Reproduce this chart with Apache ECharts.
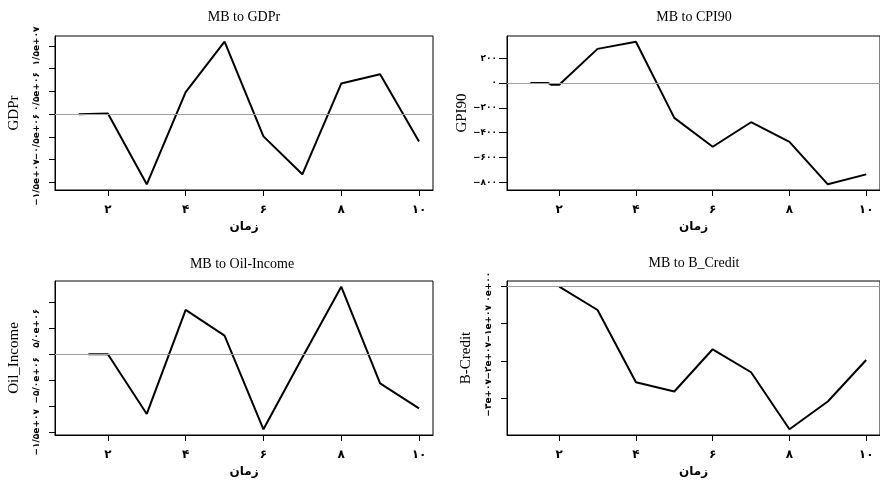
<!DOCTYPE html>
<html>
<head>
<meta charset="utf-8">
<script src="https://cdn.jsdelivr.net/npm/echarts@6/dist/echarts.min.js"></script>
<style>
  html, body { margin: 0; padding: 0; background: #fff; }
  #chart { width: 880px; height: 481px; }
</style>
</head>
<body>
<div id="chart"></div>
<script>
// x axis (shared)
var xTickVals = [2, 4, 6, 8, 10];
var xTickText = ['۲', '۴', '۶', '۸', '۱۰'];

// MB to GDPr
var gdprX = [1.25, 1.75, 2, 3, 4, 5, 6, 7, 8, 9, 10];
var gdprY = [0, 1.0e5, 1.5e5, -1.54e7, 4.87e6, 1.593e7, -4.87e6, -1.32e7, 6.73e6, 8.78e6, -5.97e6];
var gdprTicks = [-1.5e7, -1e7, -5e6, 0, 5e6, 1e7, 1.5e7];
var gdprLabelVals = [-1.5e7, -5e6, 5e6, 1.5e7];
var gdprLabelText = ['−۱/۵e+۰۷', '−۰/۵e+۰۶', '۰/۵e+۰۶', '۱/۵e+۰۷'];

// MB to CPI90
var cpiX = [1.25, 1.72, 1.8, 2, 3, 4, 5, 6, 7, 8, 9, 10];
var cpiY = [0, 0, -14, -14, 276, 334, -281, -514, -316, -474, -817, -737];
var cpiTicks = [-800, -600, -400, -200, 0, 200];
var cpiLabelText = ['−۸۰۰', '−۶۰۰', '−۴۰۰', '−۲۰۰', '۰', '۲۰۰'];

// MB to Oil-Income
var oilX = [1.5, 2, 3, 4, 5, 6, 7, 8, 9, 10];
var oilY = [0, 0, -1.147e7, 8.53e6, 3.59e6, -1.442e7, -6e5, 1.3e7, -5.58e6, -1.038e7];
var oilTicks = [-1.5e7, -1e7, -5e6, 0, 5e6, 1e7];
var oilLabelVals = [-1.5e7, -5e6, 5e6];
var oilLabelText = ['−۱/۵e+۰۷', '−۵/۰e+۰۶', '۵/۰e+۰۶'];

// MB to B_Credit
var credX = [2, 3, 4, 5, 6, 7, 8, 9, 10];
var credY = [0, -6.29e6, -2.58e7, -2.83e7, -1.69e7, -2.31e7, -3.85e7, -3.1e7, -1.98e7];
var credTicks = [-3e7, -2e7, -1e7, 0];
var credLabelText = ['−۳e+۰۷', '−۲e+۰۷', '−۱e+۰۷', '۰e+۰۰'];

var serif = "'Liberation Serif', 'DejaVu Serif', serif";
var arabic = "'DejaVu Sans', sans-serif";

var panels = [
    {title: 'MB to GDPr', yName: 'GDPr', x: gdprX, y: gdprY, ticks: gdprTicks,
     labelVals: gdprLabelVals, labelText: gdprLabelText, rot: 90,
     left: 55, top: 36, center: 244, titleTop: 10},
    {title: 'MB to CPI90', yName: 'GPI90', x: cpiX, y: cpiY, ticks: cpiTicks,
     labelVals: cpiTicks, labelText: cpiLabelText, rot: 0,
     left: 507, top: 36, center: 694, titleTop: 10},
    {title: 'MB to Oil-Income', yName: 'Oil_Income', x: oilX, y: oilY, ticks: oilTicks,
     labelVals: oilLabelVals, labelText: oilLabelText, rot: 90,
     left: 55, top: 281, center: 242, titleTop: 257},
    {title: 'MB to B_Credit', yName: 'B-Credit', x: credX, y: credY, ticks: credTicks,
     labelVals: credTicks, labelText: credLabelText, rot: 90,
     left: 507, top: 281, center: 694, titleTop: 256}
];

var option = {
    animation: false,
    backgroundColor: '#fff',
    title: [], grid: [], xAxis: [], yAxis: [], series: []
};

function yLabel(p, vals) {
    return {
        customValues: vals, rotate: p.rot, margin: p.rot ? 14 : 10,
        hideOverlap: false, showMinLabel: true, showMaxLabel: true,
        fontFamily: arabic, fontSize: 9, fontWeight: 'bold', color: '#000',
        formatter: function (v) {
            var k = p.labelVals.indexOf(v);
            return k < 0 ? '' : p.labelText[k];
        }
    };
}

panels.forEach(function (p, i) {
    var lo = Math.min.apply(null, p.y), hi = Math.max.apply(null, p.y);
    var pad = (hi - lo) * 0.04;
    // rotated labels sit edge to edge, so every other one goes on a twin axis
    var evenVals = p.labelVals.filter(function (v, k) { return p.rot === 0 || k % 2 === 0; });
    var oddVals = p.labelVals.filter(function (v, k) { return p.rot !== 0 && k % 2 === 1; });

    option.title.push({
        text: p.title, left: p.center, top: p.titleTop, textAlign: 'center', padding: 0,
        textStyle: {fontFamily: serif, fontSize: 14, fontWeight: 'normal', color: '#000'}
    });
    option.grid.push({
        left: p.left, top: p.top, width: 378, height: 154,
        show: true, borderColor: '#000', borderWidth: 1, backgroundColor: 'transparent'
    });
    option.xAxis.push({
        type: 'value', gridIndex: i, min: 0.64, max: 10.36,
        name: 'زمان', nameLocation: 'middle', nameGap: 31,
        nameTextStyle: {fontFamily: arabic, fontSize: 12, fontWeight: 'bold', color: '#000'},
        splitLine: {show: false},
        axisLine: {show: true, onZero: false, lineStyle: {color: '#000', width: 1}},
        axisTick: {show: true, length: 6, customValues: xTickVals, lineStyle: {color: '#000'}},
        axisLabel: {
            customValues: xTickVals, margin: 14, hideOverlap: false,
            showMinLabel: true, showMaxLabel: true,
            fontFamily: arabic, fontSize: 12, fontWeight: 'bold', color: '#000',
            formatter: function (v) { return xTickText[xTickVals.indexOf(v)]; }
        }
    });
    option.yAxis.push({
        type: 'value', gridIndex: i, position: 'left', min: lo - pad, max: hi + pad,
        name: p.yName, nameLocation: 'middle', nameGap: 33,
        nameTextStyle: {fontFamily: serif, fontSize: 15, color: '#000'},
        splitLine: {show: false},
        axisLine: {show: true, onZero: false, lineStyle: {color: '#000', width: 1}},
        axisTick: {show: true, length: p.rot ? 6 : 8, customValues: p.ticks, lineStyle: {color: '#000'}},
        axisLabel: yLabel(p, evenVals)
    });
    option.yAxis.push({
        type: 'value', gridIndex: i, position: 'left', min: lo - pad, max: hi + pad,
        splitLine: {show: false},
        axisLine: {show: false, onZero: false},
        axisTick: {show: false},
        axisLabel: oddVals.length ? yLabel(p, oddVals) : {show: false}
    });
    // zero reference line
    option.series.push({
        type: 'line', xAxisIndex: i, yAxisIndex: 2 * i, data: [], z: 1,
        markLine: {
            silent: true, symbol: 'none', label: {show: false},
            lineStyle: {color: '#a0a0a0', width: 1, type: 'solid'},
            data: [{yAxis: 0}]
        }
    });
    option.series.push({
        type: 'line', xAxisIndex: i, yAxisIndex: 2 * i, z: 3,
        showSymbol: false, symbol: 'none',
        lineStyle: {color: '#000', width: 2},
        data: p.x.map(function (xv, k) { return [xv, p.y[k]]; })
    });
});

var chart = echarts.init(document.getElementById('chart'));
chart.setOption(option);
window.addEventListener('resize', function () {
    chart.resize();
});
</script>
</body>
</html>
